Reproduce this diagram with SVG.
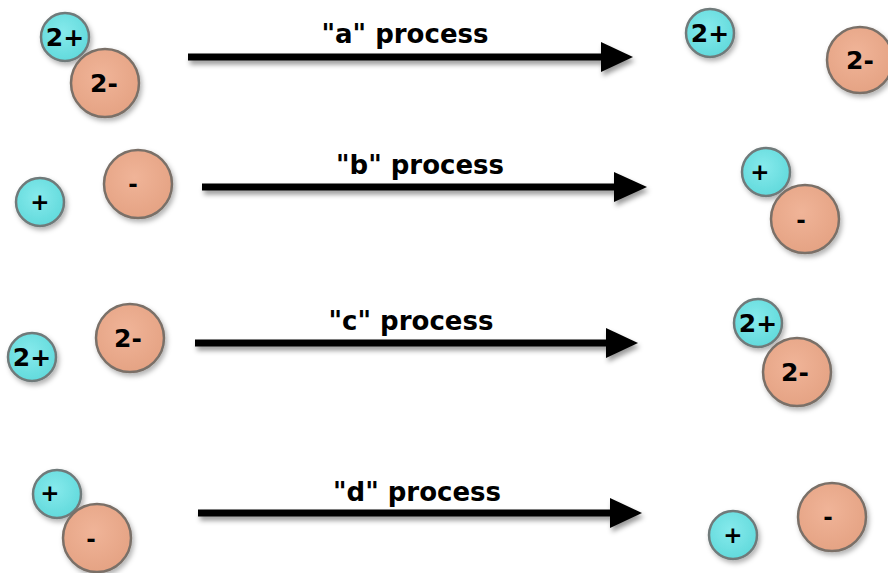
<svg xmlns="http://www.w3.org/2000/svg" width="888" height="573" viewBox="0 0 888 573">
<defs>
  <filter id="sh" x="-30%" y="-30%" width="170%" height="170%">
    <feDropShadow dx="2" dy="3" stdDeviation="2.5" flood-color="#000" flood-opacity="0.3"/>
  </filter>
  <filter id="ash" x="-5%" y="-100%" width="110%" height="300%">
    <feDropShadow dx="2" dy="4" stdDeviation="2.5" flood-color="#000" flood-opacity="0.4"/>
  </filter>
  <radialGradient id="gc" cx="45%" cy="40%" r="60%">
    <stop offset="0" stop-color="#86eaec"/>
    <stop offset="1" stop-color="#62dadc"/>
  </radialGradient>
  <radialGradient id="go" cx="45%" cy="40%" r="60%">
    <stop offset="0" stop-color="#f0b498"/>
    <stop offset="1" stop-color="#e5a384"/>
  </radialGradient>
</defs>
<style>
  .cat{fill:url(#gc);stroke:#6f7a7a;stroke-width:2.5;filter:url(#sh)}
  .an{fill:url(#go);stroke:#7a7068;stroke-width:2.5;filter:url(#sh)}
  .t{font-family:"DejaVu Sans",Verdana,sans-serif;font-weight:bold;fill:#000;text-anchor:middle}
  .ion{font-size:25px}
  .one{font-size:23px}
  .lbl{font-size:26px}
  .arr{filter:url(#ash)}
</style>
<rect width="888" height="573" fill="#fff"/>

<g id="connectors">
  <g id="arrow-a" class="arr">
    <line x1="188" y1="57" x2="605" y2="57" stroke="#000" stroke-width="7"/>
    <polygon points="601,42 633,57 601,72" fill="#000"/>
  </g>
  <g id="arrow-b" class="arr">
    <line x1="202" y1="187" x2="618" y2="187" stroke="#000" stroke-width="7"/>
    <polygon points="614,172 647,187 614,202" fill="#000"/>
  </g>
  <g id="arrow-c" class="arr">
    <line x1="195" y1="343" x2="610" y2="343" stroke="#000" stroke-width="7"/>
    <polygon points="606,328 638,343 606,358" fill="#000"/>
  </g>
  <g id="arrow-d" class="arr">
    <line x1="198" y1="513" x2="614" y2="513" stroke="#000" stroke-width="7"/>
    <polygon points="610,498 642,513 610,528" fill="#000"/>
  </g>
  <text class="t lbl" x="405" y="43">"a" process</text>
  <text class="t lbl" x="420" y="174">"b" process</text>
  <text class="t lbl" x="411" y="330">"c" process</text>
  <text class="t lbl" x="417" y="501">"d" process</text>
</g>

<!-- row a -->
<g id="a-left-cation"><circle class="cat" cx="65" cy="37" r="24"/><text class="t ion" x="65" y="46">2+</text></g>
<g id="a-left-anion"><circle class="an" cx="105" cy="83" r="34"/><text class="t ion" x="104" y="92">2-</text></g>
<g id="a-right-cation"><circle class="cat" cx="710" cy="33" r="24"/><text class="t ion" x="710" y="42">2+</text></g>
<g id="a-right-anion"><circle class="an" cx="860" cy="60" r="33"/><text class="t ion" x="860" y="69">2-</text></g>

<!-- row b -->
<g id="b-left-cation"><circle class="cat" cx="40" cy="202" r="24"/><text class="t one" x="40" y="210">+</text></g>
<g id="b-left-anion"><circle class="an" cx="138" cy="184" r="34"/><text class="t one" x="133" y="192">-</text></g>
<g id="b-right-cation"><circle class="cat" cx="766" cy="172" r="24"/><text class="t one" x="760" y="180">+</text></g>
<g id="b-right-anion"><circle class="an" cx="805" cy="219" r="34"/><text class="t one" x="801" y="228">-</text></g>

<!-- row c -->
<g id="c-left-cation"><circle class="cat" cx="32" cy="357" r="24"/><text class="t ion" x="32" y="366">2+</text></g>
<g id="c-left-anion"><circle class="an" cx="130" cy="338" r="34"/><text class="t ion" x="128" y="347">2-</text></g>
<g id="c-right-cation"><circle class="cat" cx="758" cy="323" r="24"/><text class="t ion" x="758" y="332">2+</text></g>
<g id="c-right-anion"><circle class="an" cx="797" cy="372" r="34"/><text class="t ion" x="795" y="381">2-</text></g>

<!-- row d -->
<g id="d-left-cation"><circle class="cat" cx="57" cy="494" r="24"/><text class="t one" x="50" y="501">+</text></g>
<g id="d-left-anion"><circle class="an" cx="97" cy="538" r="34"/><text class="t one" x="91" y="547">-</text></g>
<g id="d-right-cation"><circle class="cat" cx="733" cy="535" r="24"/><text class="t one" x="733" y="543">+</text></g>
<g id="d-right-anion"><circle class="an" cx="832" cy="517" r="34"/><text class="t one" x="828" y="525">-</text></g>
</svg>
